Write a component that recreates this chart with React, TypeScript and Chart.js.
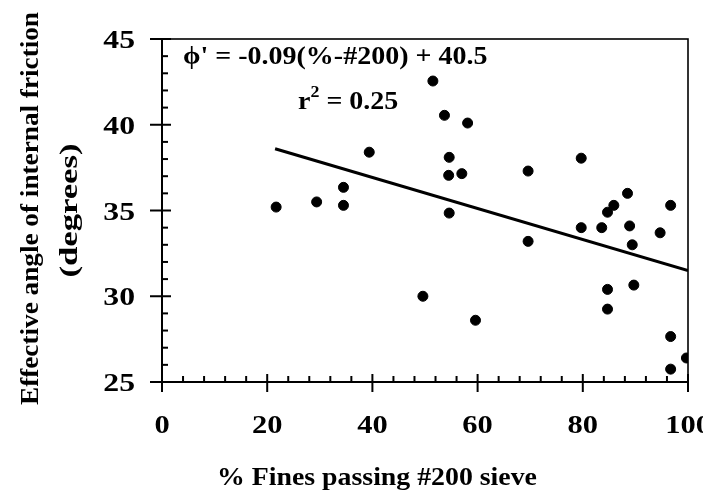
import React, { useEffect, useRef } from "react";
import { Chart, registerables } from "chart.js";

Chart.register(...registerables);

// % fines passing #200 sieve
const finesPct = [
  21.7, 29.4, 34.5, 34.5, 39.4, 49.6, 51.5, 53.7, 58.1, 54.6, 54.5, 57.0, 54.6, 59.6,
  69.6, 69.6, 79.7, 79.7, 83.6, 84.7, 85.9, 84.7, 84.7, 88.5, 88.9, 89.4, 89.7, 94.7,
  96.7, 96.7, 96.7, 99.7,
];
// effective friction angle (degrees)
const phiDeg = [
  35.2, 35.5, 36.35, 35.3, 38.4, 30.0, 42.55, 40.55, 40.1, 38.1, 37.05, 37.15, 34.85, 28.6,
  37.3, 33.2, 38.05, 34.0, 34.0, 34.9, 35.3, 30.4, 29.25, 36.0, 34.1, 33.0, 30.65, 33.7,
  35.3, 27.65, 25.75, 26.4,
];
// regression line endpoints
const trendX = [21.5, 100];
const trendY = [38.6, 31.5];

const xTicks = [0, 20, 40, 60, 80, 100];
const yTicks = [25, 30, 35, 40, 45];

const xTitle = "% Fines passing #200 sieve";
const yTitle = ["Effective angle of internal friction", "(degrees)"];
const eqText = "\u03d5' = -0.09(%-#200) + 40.5";
const r2Base = "r";
const r2Sup = "2";
const r2Rest = " = 0.25";

const FONT = "'Liberation Serif', 'Times New Roman', serif";

function drawText(
  ctx: CanvasRenderingContext2D,
  text: string,
  x: number,
  y: number,
  size: number,
  sx: number,
  align: "left" | "center" | "right"
) {
  ctx.save();
  ctx.font = `bold ${size}px ${FONT}`;
  const w = ctx.measureText(text).width * sx;
  const x0 = align === "center" ? x - w / 2 : align === "right" ? x - w : x;
  ctx.translate(x0, y);
  ctx.scale(sx, 1);
  ctx.textAlign = "left";
  ctx.textBaseline = "alphabetic";
  ctx.fillText(text, 0, 0);
  ctx.restore();
  return w;
}

function drawFitted(
  ctx: CanvasRenderingContext2D,
  text: string,
  cx: number,
  cy: number,
  size: number,
  targetW: number,
  rotate: boolean
) {
  ctx.save();
  ctx.font = `bold ${size}px ${FONT}`;
  const w = ctx.measureText(text).width;
  const sx = targetW / w;
  ctx.translate(cx, cy);
  if (rotate) ctx.rotate(-Math.PI / 2);
  ctx.scale(sx, 1);
  ctx.textAlign = "center";
  ctx.textBaseline = "middle";
  ctx.fillText(text, 0, 0);
  ctx.restore();
}

const framePlugin = {
  id: "framePlugin",
  afterDraw(chart: any) {
    const { ctx, chartArea } = chart;
    const xs = chart.scales.x;
    const ys = chart.scales.y;
    const { left, right, top, bottom } = chartArea;
    ctx.save();
    ctx.strokeStyle = "#000";
    ctx.fillStyle = "#000";
    ctx.lineWidth = 1.6;
    ctx.strokeRect(left, top, right - left, bottom - top);
    ctx.lineWidth = 2;
    ctx.beginPath();
    ctx.moveTo(left, top);
    ctx.lineTo(left, bottom);
    ctx.lineTo(right, bottom);
    ctx.stroke();
    // x ticks
    for (let v = 0; v <= 100; v += 4) {
      if (v % 20 === 0) continue;
      const px = xs.getPixelForValue(v);
      ctx.beginPath();
      ctx.moveTo(px, bottom);
      ctx.lineTo(px, bottom - 6);
      ctx.stroke();
    }
    for (const v of xTicks) {
      const px = xs.getPixelForValue(v);
      ctx.beginPath();
      ctx.moveTo(px, bottom - 8);
      ctx.lineTo(px, bottom + 10);
      ctx.stroke();
      drawText(ctx, String(v), px, bottom + 51, 25, 1.22, "center");
    }
    // y ticks
    for (let v = 25; v <= 45; v += 1) {
      if (v % 5 === 0) continue;
      const py = ys.getPixelForValue(v);
      ctx.beginPath();
      ctx.moveTo(left, py);
      ctx.lineTo(left + 6, py);
      ctx.stroke();
    }
    for (const v of yTicks) {
      const py = ys.getPixelForValue(v);
      ctx.beginPath();
      ctx.moveTo(left - 12, py);
      ctx.lineTo(left + 9, py);
      ctx.stroke();
      drawText(ctx, String(v), left - 27, py + 9, 26, 1.22, "right");
    }
    // axis titles
    drawText(ctx, xTitle, 209, bottom + 103, 26, 1.07, "left");
    const cy = (top + bottom) / 2;
    drawFitted(ctx, yTitle[0], 23, cy - 2, 26, 393, true);
    drawFitted(ctx, yTitle[1], 62, cy, 26, 134, true);
    // annotation text
    drawText(ctx, eqText, left + 21, top + 25, 25, 1.12, "left");
    const rx = left + 136;
    const ry = top + 70;
    const rw = drawText(ctx, r2Base, rx, ry, 25, 1.12, "left");
    const sw = drawText(ctx, r2Sup, rx + rw, ry - 12, 16, 1.12, "left");
    drawText(ctx, r2Rest, rx + rw + sw, ry, 25, 1.12, "left");
    ctx.restore();
  },
};

export default function App() {
  const ref = useRef<HTMLCanvasElement | null>(null);
  useEffect(() => {
    if (!ref.current) return;
    const chart = new Chart(ref.current, {
      type: "scatter",
      data: {
        datasets: [
          {
            label: "data",
            data: finesPct.map((x, i) => ({ x, y: phiDeg[i] })),
            backgroundColor: "#000",
            borderColor: "#000",
            pointRadius: 5,
            pointHoverRadius: 5,
            showLine: false,
          },
          {
            label: "fit",
            type: "line",
            data: trendX.map((x, i) => ({ x, y: trendY[i] })),
            borderColor: "#000",
            borderWidth: 3,
            pointRadius: 0,
            fill: false,
          } as any,
        ],
      },
      options: {
        animation: false,
        responsive: false,
        maintainAspectRatio: false,
        events: [],
        layout: { padding: { top: 31, right: 15, left: 0, bottom: 0 } },
        plugins: { legend: { display: false }, tooltip: { enabled: false } },
        scales: {
          x: {
            type: "linear",
            min: 0,
            max: 100,
            afterFit: (s: any) => {
              s.height = 112;
              s.paddingLeft = 0;
              s.paddingRight = 0;
            },
            afterBuildTicks: (s: any) => {
              s.ticks = xTicks.map((v) => ({ value: v }));
            },
            grid: { display: false },
            border: { display: false },
            ticks: { display: false },
            title: { display: false },
          },
          y: {
            type: "linear",
            min: 25,
            max: 45,
            afterFit: (s: any) => {
              s.width = 154;
              s.paddingTop = 0;
              s.paddingBottom = 0;
            },
            afterBuildTicks: (s: any) => {
              s.ticks = yTicks.map((v) => ({ value: v }));
            },
            grid: { display: false },
            border: { display: false },
            ticks: { display: false },
            title: { display: false },
          },
        },
      },
      plugins: [framePlugin],
    });
    return () => chart.destroy();
  }, []);
  return (
    <div style={{ width: 695, height: 486 }}>
      <canvas ref={ref} width={695} height={486} style={{ width: 695, height: 486, display: "block" }} />
    </div>
  );
}
